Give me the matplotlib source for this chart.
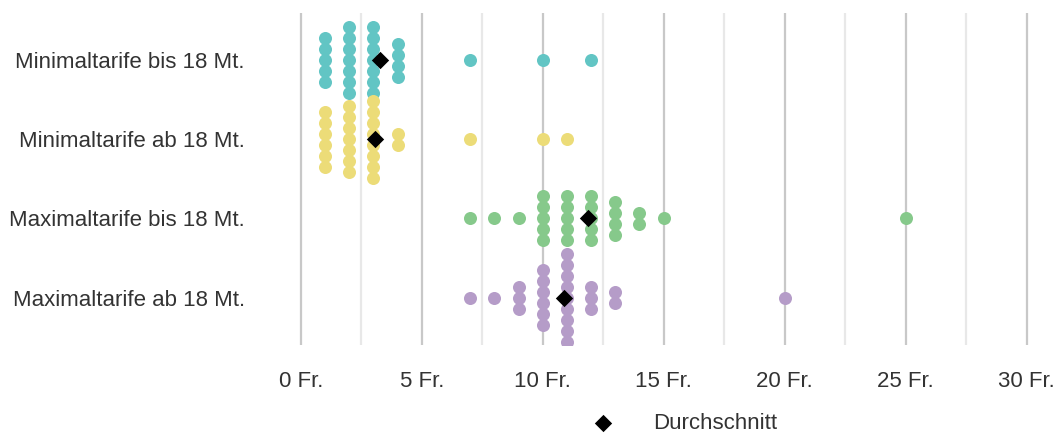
import numpy as np
import matplotlib.pyplot as plt

## data: one value per tariff (Fr.)
categories = ["Minimaltarife bis 18 Mt.", "Minimaltarife ab 18 Mt.",
              "Maximaltarife bis 18 Mt.", "Maximaltarife ab 18 Mt."]
min_bis_18 = [1, 1, 1, 1, 1, 2, 2, 2, 2, 2, 2, 2, 3, 3, 3, 3, 3, 3, 3,
              4, 4, 4, 4, 7, 10, 12]
min_ab_18 = [1, 1, 1, 1, 1, 1, 2, 2, 2, 2, 2, 2, 2, 3, 3, 3, 3, 3, 3, 3, 3,
             4, 4, 7, 10, 11]
max_bis_18 = [7, 8, 9, 10, 10, 10, 10, 10, 11, 11, 11, 11, 11, 12, 12, 12, 12, 12,
              13, 13, 13, 13, 14, 14, 15, 25]
max_ab_18 = [7, 8, 9, 9, 9, 10, 10, 10, 10, 10, 10, 11, 11, 11, 11, 11, 11, 11, 11, 11,
             12, 12, 12, 13, 13, 20]
groups = [min_bis_18, min_ab_18, max_bis_18, max_ab_18]
xtick_values = [0, 5, 10, 15, 20, 25, 30]
xtick_labels = ["{} Fr.".format(v) for v in xtick_values]
mean_label = "Durchschnitt"

colors = ["#62c5c4", "#ecdc78", "#86c98b", "#b59cc8"]
text_color = "#333333"
plt.rcParams["font.family"] = ["Liberation Sans", "DejaVu Sans"]

fig = plt.figure(figsize=(10.56, 4.34), dpi=100)
ax = fig.add_axes([0.278, 0.205, 0.717, 0.766])

## grid lines: darker every 5 Fr., lighter in between
for g in np.arange(0, 31, 2.5):
    major = g % 5 == 0
    ax.axvline(g, color="#c8c8c8" if major else "#e8e8e8", lw=1.6, zorder=0)

step = 0.139  # vertical spacing of stacked dots (axis units)
for i, vals in enumerate(groups):
    xs, ys = [], []
    for v in sorted(set(vals)):
        k = vals.count(v)
        offs = (np.arange(k) - (k - 1) / 2) * step
        xs += [v] * k
        ys += list(i + offs)
    ax.scatter(xs, ys, s=88, color=colors[i], linewidths=0, zorder=2 + i)
    ax.scatter([np.mean(vals)], [i], s=78, marker="D", color="black",
               linewidths=0, zorder=10, label=mean_label if i == 0 else None)

ax.set_xlim(-0.3, 31.0)
ax.set_ylim(3.6, -0.6)
ax.set_yticks(range(len(categories)))
ax.set_yticklabels(categories)
ax.set_xticks(xtick_values)
ax.set_xticklabels(xtick_labels)
ax.tick_params(axis="y", length=0, pad=35, labelsize=16, labelcolor=text_color)
ax.tick_params(axis="x", length=0, pad=19, labelsize=16, labelcolor=text_color)
for s in ax.spines.values():
    s.set_visible(False)

fig.legend(loc="center", bbox_to_anchor=(0.643, 0.025), frameon=False,
           scatterpoints=1, fontsize=16, handletextpad=1.3, labelcolor=text_color,
           borderpad=0)

fig.savefig("out.png", dpi=100)
